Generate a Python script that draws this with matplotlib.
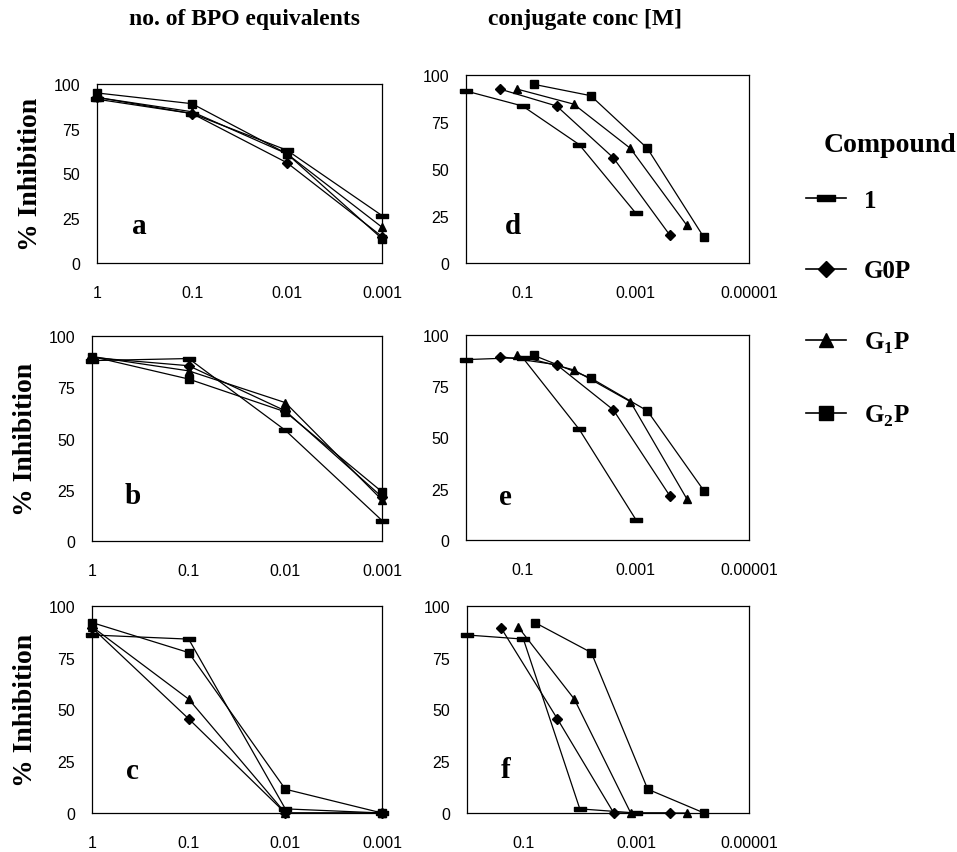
import matplotlib
matplotlib.use("Agg")
import matplotlib.pyplot as plt
from matplotlib.lines import Line2D

# x values: BPO equivalents (left column) and conjugate concentration [M] (right column)
bpo_equiv = [1, 0.1, 0.01, 0.001]
conc_1 = [1, 0.1, 0.01, 0.001]
conc_g0p = [0.25, 0.025, 0.0025, 0.00025]
conc_g1p = [0.125, 0.0125, 0.00125, 0.000125]
conc_g2p = [0.0625, 0.00625, 0.000625, 0.0000625]

# % inhibition, one list per compound, rows = (a,d), (b,e), (c,f)
inh_1 = [[91.5, 83.5, 63, 26.5], [88, 89, 54, 10], [86, 84, 2, 0]]
inh_g0p = [[92.5, 83.5, 56, 14.8], [89.5, 85.5, 63.5, 21.5], [89.5, 45.5, 0, 0]]
inh_g1p = [[92.5, 84.5, 61, 20], [90, 83, 67.5, 20], [90, 55, 0, 0]]
inh_g2p = [[95, 89, 61, 13.6], [90, 79, 63, 24], [92, 77.5, 11.5, 0]]

left_letters = ["a", "b", "c"]
right_letters = ["d", "e", "f"]
left_xticks = [1, 0.1, 0.01, 0.001]
left_xlabels = ["1", "0.1", "0.01", "0.001"]
right_xticks = [0.1, 0.001, 0.00001]
right_xlabels = ["0.1", "0.001", "0.00001"]
yticks = [0, 25, 50, 75, 100]

plt.rcParams["font.family"] = ["Liberation Sans", "DejaVu Sans"]
plt.rcParams["mathtext.fontset"] = "custom"
plt.rcParams["mathtext.rm"] = "Liberation Serif:bold"
plt.rcParams["mathtext.bf"] = "Liberation Serif:bold"
SERIF = ["Liberation Serif", "DejaVu Serif"]

dash = [(-1, -0.32), (1, -0.32), (1, 0.32), (-1, 0.32), (-1, -0.32)]
STYLE = [  # (marker, size, label)
    (dash, 8, "1"),
    ("D", 5, "G0P"),
    ("^", 6, r"G$_{\mathrm{1}}$P"),
    ("s", 6, r"G$_{\mathrm{2}}$P"),
]

W, H = 957, 853
fig = plt.figure(figsize=(W / 100, H / 100), dpi=100)

def box(l, r, t, b):
    return [l / W, 1 - b / H, (r - l) / W, (b - t) / H]

left_boxes = [box(97, 382, 85, 264), box(92, 382, 337, 542), box(92, 382, 607, 814)]
right_boxes = [box(466, 749, 76, 264), box(466, 749, 336, 541), box(467, 749, 607, 814)]
left_letter_pos = [(0.15, 0.21), (0.141, 0.22), (0.141, 0.203)]
right_letter_pos = [(0.166, 0.197), (0.138, 0.21), (0.138, 0.21)]

right_x = [conc_1, conc_g0p, conc_g1p, conc_g2p]
all_inh = [inh_1, inh_g0p, inh_g1p, inh_g2p]

for row in range(3):
    for col in range(2):
        ax = fig.add_axes(left_boxes[row] if col == 0 else right_boxes[row])
        for k, (mk, ms, lab) in enumerate(STYLE):
            xs = bpo_equiv if col == 0 else right_x[k]
            ax.plot(xs, all_inh[k][row], color="black", lw=0.9, marker=mk, ms=ms,
                    mfc="black", mec="black", clip_on=False, zorder=3)
        ax.set_xscale("log")
        ax.set_ylim(0, 100)
        ax.set_yticks(yticks)
        if col == 0:
            ax.set_xlim(1, 0.001)
            ax.set_xticks(left_xticks)
            ax.set_xticklabels(left_xlabels)
            ax.set_ylabel("% Inhibition", family=SERIF, fontweight="bold", fontsize=20, labelpad=8)
            lx, ly = left_letter_pos[row]
            letter = left_letters[row]
        else:
            ax.set_xlim(1, 0.00001)
            ax.set_xticks(right_xticks)
            ax.set_xticklabels(right_xlabels)
            lx, ly = right_letter_pos[row]
            letter = right_letters[row]
        ax.minorticks_off()
        ax.tick_params(length=0, labelsize=11.5)
        ax.tick_params(axis="x", pad=16)
        ax.tick_params(axis="y", pad=12)
        for sp in ax.spines.values():
            sp.set_linewidth(0.9)
        ax.text(lx, ly, letter, transform=ax.transAxes, ha="center", va="center",
                family=SERIF, fontweight="bold", fontsize=21)

fig.text(245 / W, 1 - 20 / H, "no. of BPO equivalents", ha="center", va="center",
         family=SERIF, fontweight="bold", fontsize=17)
fig.text(585 / W, 1 - 20 / H, "conjugate conc [M]", ha="center", va="center",
         family=SERIF, fontweight="bold", fontsize=17)
fig.text(890 / W, 1 - 145 / H, "Compound", ha="center", va="center",
         family=SERIF, fontweight="bold", fontsize=20)

handles = [Line2D([], [], color="black", lw=1.2, marker=mk, ms=ms * 1.7, mfc="black", mec="black")
           for mk, ms, lab in STYLE]
leg = fig.legend(handles, [s[2] for s in STYLE], frameon=False,
                 loc="upper left", bbox_to_anchor=(806 / W, 1 - 190 / H),
                 borderpad=0, borderaxespad=0,
                 handlelength=1.6, labelspacing=1.9, handletextpad=0.7,
                 prop={"family": SERIF, "weight": "bold", "size": 18})

fig.savefig("out.png", dpi=100)
